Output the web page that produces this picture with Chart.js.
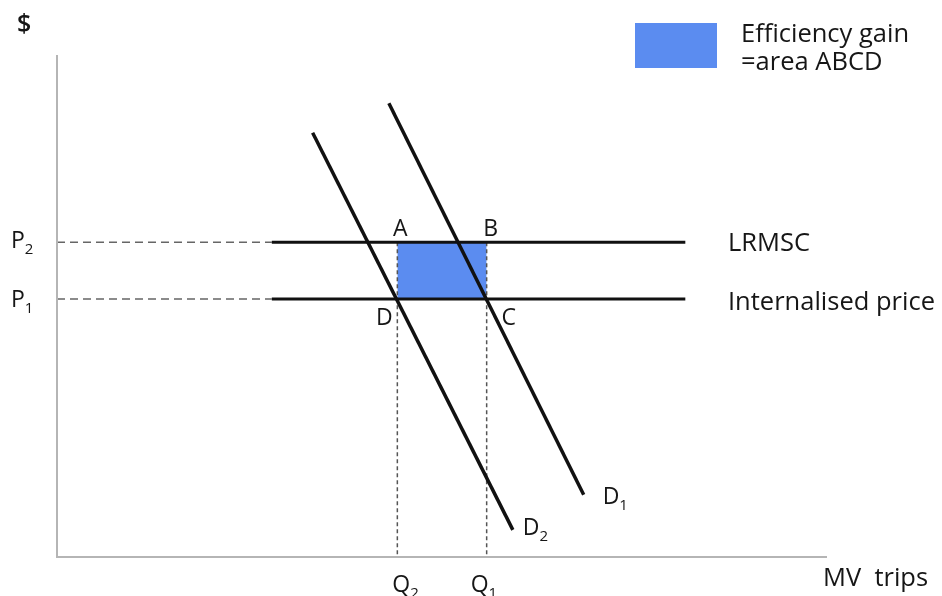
<!DOCTYPE html>
<html>
<head>
<meta charset="utf-8">
<script src="https://cdn.jsdelivr.net/npm/chart.js@4.4.1/dist/chart.umd.min.js"></script>
<style>
  html, body { margin: 0; padding: 0; background: #ffffff; }
  #wrap { width: 942px; height: 596px; position: relative; }
</style>
</head>
<body>
<div id="wrap"><canvas id="c" width="942" height="596"></canvas></div>
<script>
// ---- data (arbitrary units, x: quantity of MV trips, y: $) ----
const priceLevels = [51.4, 62.7];          // P1, P2
const priceNames = ['P1', 'P2'];
const quantityLevels = [55.8, 44.2];       // Q1, Q2
const quantityNames = ['Q1', 'Q2'];
const demandD1 = [{x: 43.1, y: 90.4}, {x: 68.4, y: 12.4}];
const demandD2 = [{x: 33.2, y: 84.5}, {x: 59.2, y: 5.4}];
const priceLineSpan = [27.9, 81.6];        // x extent of the solid price lines
const priceLineNames = ['Internalised price', 'LRMSC'];
const cornerNames = ['A', 'B', 'C', 'D'];
const legendLines = ['Efficiency gain', '=area ABCD'];

const P1 = priceLevels[0], P2 = priceLevels[1];
const Q1 = quantityLevels[0], Q2 = quantityLevels[1];

const BLACK = '#111111';
const BLUE = 'rgb(91,140,240)';
const FONT = '"Open Sans", Lato, sans-serif';
const TEXT = '#161616';

function seg(a, b) { return [a, b]; }

const datasets = [
  {label: 'D1', data: demandD1, borderColor: BLACK, borderWidth: 3.5},
  {label: 'D2', data: demandD2, borderColor: BLACK, borderWidth: 3.5},
  {label: 'LRMSC', data: seg({x: priceLineSpan[0], y: P2}, {x: priceLineSpan[1], y: P2}), borderColor: BLACK, borderWidth: 3},
  {label: 'Internalised', data: seg({x: priceLineSpan[0], y: P1}, {x: priceLineSpan[1], y: P1}), borderColor: BLACK, borderWidth: 3},
  {label: 'P2 dash', data: seg({x: 0, y: P2}, {x: priceLineSpan[0], y: P2}), borderColor: '#666', borderWidth: 1.5, borderDash: [8, 5]},
  {label: 'P1 dash', data: seg({x: 0, y: P1}, {x: priceLineSpan[0], y: P1}), borderColor: '#666', borderWidth: 1.5, borderDash: [8, 5]},
  {label: 'Q2 dash', data: seg({x: Q2, y: P2}, {x: Q2, y: 0}), borderColor: '#555', borderWidth: 1.5, borderDash: [4, 3]},
  {label: 'Q1 dash', data: seg({x: Q1, y: P2}, {x: Q1, y: 0}), borderColor: '#555', borderWidth: 1.5, borderDash: [4, 3]},
  {label: 'ABCD top', data: seg({x: Q2, y: P2}, {x: Q1, y: P2}), borderWidth: 0, borderColor: 'rgba(0,0,0,0)', backgroundColor: BLUE, fill: '+1'},
  {label: 'ABCD bottom', data: seg({x: Q2, y: P1}, {x: Q1, y: P1}), borderWidth: 0, borderColor: 'rgba(0,0,0,0)'}
].map(d => Object.assign({showLine: true, pointRadius: 0, pointHoverRadius: 0, tension: 0}, d));

function sub(ctx, main, s, x, y, size) {
  ctx.font = size + 'px ' + FONT;
  ctx.fillText(main, x, y);
  const w = ctx.measureText(main).width;
  ctx.font = Math.round(size * 0.66) + 'px ' + FONT;
  ctx.fillText(s, x + w, y + size * 0.25);
}

const annotate = {
  id: 'annotate',
  afterDraw(chart) {
    const ctx = chart.ctx, xs = chart.scales.x, ys = chart.scales.y, ca = chart.chartArea;
    ctx.save();
    // axes
    ctx.strokeStyle = '#b5b5b5';
    ctx.lineWidth = 2;
    ctx.beginPath();
    ctx.moveTo(ca.left, ca.top);
    ctx.lineTo(ca.left, ca.bottom);
    ctx.lineTo(ca.right, ca.bottom);
    ctx.stroke();

    ctx.fillStyle = TEXT;
    ctx.textBaseline = 'alphabetic';
    ctx.textAlign = 'left';
    const S = 23;
    // $ title
    ctx.font = '600 25px ' + FONT;
    ctx.fillText('$', 17, 32);
    // price labels
    sub(ctx, 'P', '2', 11, ys.getPixelForValue(P2) + 6, S);
    sub(ctx, 'P', '1', 11, ys.getPixelForValue(P1) + 8, S);
    // quantity labels
    sub(ctx, 'Q', '2', xs.getPixelForValue(Q2) - 5, 592, S);
    sub(ctx, 'Q', '1', xs.getPixelForValue(Q1) - 16, 592, S);
    // corners
    ctx.font = S + 'px ' + FONT;
    ctx.textAlign = 'center';
    ctx.fillText('A', xs.getPixelForValue(Q2) + 3, ys.getPixelForValue(P2) - 6);
    ctx.fillText('B', xs.getPixelForValue(Q1) + 4, ys.getPixelForValue(P2) - 6);
    ctx.fillText('D', xs.getPixelForValue(Q2) - 13, ys.getPixelForValue(P1) + 26);
    ctx.fillText('C', xs.getPixelForValue(Q1) + 22, ys.getPixelForValue(P1) + 26);
    ctx.textAlign = 'left';
    // demand curve labels
    const d1 = demandD1[1], d2 = demandD2[1];
    sub(ctx, 'D', '1', xs.getPixelForValue(d1.x) + 19, ys.getPixelForValue(d1.y) + 9, S);
    sub(ctx, 'D', '2', xs.getPixelForValue(d2.x) + 10, ys.getPixelForValue(d2.y) + 5, S);
    // price line labels
    ctx.font = '25.5px ' + FONT;
    ctx.fillText(priceLineNames[1], 728, ys.getPixelForValue(P2) + 9);
    ctx.fillText(priceLineNames[0], 728, ys.getPixelForValue(P1) + 11);
    // x axis title
    ctx.fillText('MV  trips', 823, 586);
    // legend
    ctx.fillStyle = BLUE;
    ctx.fillRect(635, 23, 82, 45);
    ctx.fillStyle = TEXT;
    ctx.fillText(legendLines[0], 741, 42);
    ctx.fillText(legendLines[1], 741, 70);
    ctx.restore();
  }
};

new Chart(document.getElementById('c'), {
  type: 'scatter',
  data: {datasets},
  options: {
    responsive: false,
    animation: false,
    layout: {padding: {left: 57, right: 115, top: 55, bottom: 39}},
    scales: {
      x: {type: 'linear', min: 0, max: 100, display: false},
      y: {type: 'linear', min: 0, max: 100, display: false}
    },
    plugins: {legend: {display: false}, tooltip: {enabled: false}}
  },
  plugins: [annotate]
});
</script>
</body>
</html>
